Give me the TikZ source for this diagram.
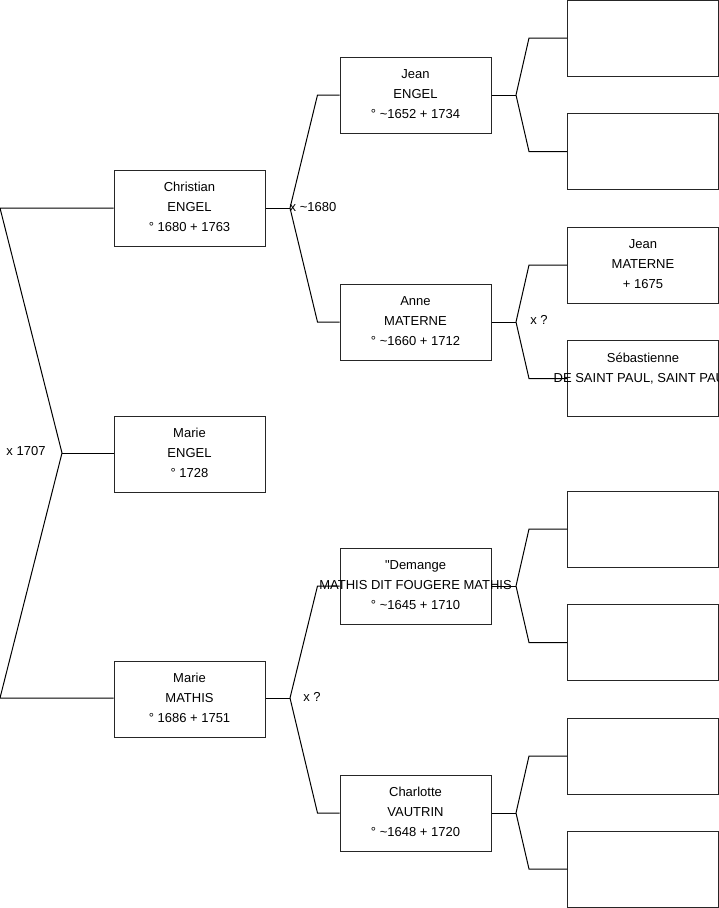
\documentclass[tikz,border=0pt]{standalone}
\usepackage{fontspec}
\setmainfont{Liberation Sans}
\newcommand{\straightquote}{\XeTeXglyph\XeTeXcharglyph"22\relax}
\begin{document}
\begin{tikzpicture}[x=1pt,y=-1pt,
  box/.style={draw=black!85,line width=1pt,minimum width=151pt,minimum height=76pt,inner sep=0pt},
  txt/.style={align=center,inner sep=0pt,font=\fontsize{13}{20}\selectfont,yshift=1pt},
  lbl/.style={inner sep=0pt,font=\fontsize{13}{16}\selectfont},
  conn/.style={draw=black,line width=1pt}]
\useasboundingbox (0,0) rectangle (719,908);
% left column
\node[box] (chr) at (189.5,208) {};
\node[box] (mae) at (189.5,454) {};
\node[box] (mam) at (189.5,699) {};
% middle column
\node[box] (jean) at (415.5,95) {};
\node[box] (anne) at (415.5,322) {};
\node[box] (dem) at (415.5,586) {};
\node[box] (cha) at (415.5,813) {};
% right column
\node[box] (r1) at (643,38) {};
\node[box] (r2) at (643,151.5) {};
\node[box] (jm) at (643,265) {};
\node[box] (seb) at (643,378.5) {};
\node[box] (r5) at (643,529) {};
\node[box] (r6) at (643,642.5) {};
\node[box] (r7) at (643,756) {};
\node[box] (r8) at (643,869) {};
% texts
\node[txt] at (chr) {Christian\\ENGEL\\° 1680 + 1763};
\node[txt] at (mae) {Marie\\ENGEL\\° 1728};
\node[txt] at (mam) {Marie\\MATHIS\\° 1686 + 1751};
\node[txt] at (jean) {Jean\\ENGEL\\° \textasciitilde 1652 + 1734};
\node[txt] at (anne) {Anne\\MATERNE\\° \textasciitilde 1660 + 1712};
\node[txt] at (cha) {Charlotte\\VAUTRIN\\° \textasciitilde 1648 + 1720};
\node[txt] at (jm) {Jean\\MATERNE\\+ 1675};
% connectors
\coordinate (a0) at (0,208);
\coordinate (b0) at (0,698);
\coordinate (j0) at (62,453);
\draw[conn] (chr.west) -- (a0) -- (j0) -- (b0) -- (mam.west |- b0);
\draw[conn] (j0) -- (mae.west |- j0);
\coordinate (j1) at (290,208);
\draw[conn] (chr.east) -- (j1);
\draw[conn] (j1) -- ([xshift=-22pt]jean.west) -- (jean.west);
\draw[conn] (j1) -- ([xshift=-22pt]anne.west) -- (anne.west);
\coordinate (j2) at (290,698);
\draw[conn] (mam.east |- j2) -- (j2);
\draw[conn] (j2) -- ([xshift=-22pt]dem.west) -- (dem.west);
\draw[conn] (j2) -- ([xshift=-22pt]cha.west) -- (cha.west);
\coordinate (j3) at (516,95);
\draw[conn] (jean.east) -- (j3);
\draw[conn] (j3) -- ([xshift=-38pt]r1.west) -- (r1.west);
\draw[conn] (j3) -- ([xshift=-38pt]r2.west) -- (r2.west);
\coordinate (j4) at (516,322);
\draw[conn] (anne.east) -- (j4);
\draw[conn] (j4) -- ([xshift=-38pt]jm.west) -- (jm.west);
\draw[conn] (j4) -- ([xshift=-38pt]seb.west) -- (seb.west);
\coordinate (j5) at (516,586);
\draw[conn] (dem.east) -- (j5);
\draw[conn] (j5) -- ([xshift=-38pt]r5.west) -- (r5.west);
\draw[conn] (j5) -- ([xshift=-38pt]r6.west) -- (r6.west);
\coordinate (j6) at (516,813);
\draw[conn] (cha.east) -- (j6);
\draw[conn] (j6) -- ([xshift=-38pt]r7.west) -- (r7.west);
\draw[conn] (j6) -- ([xshift=-38pt]r8.west) -- (r8.west);
% overflowing texts (drawn over lines)
\node[txt] at (dem) {\straightquote Demange\\MATHIS DIT FOUGERE MATHIS\\° \textasciitilde 1645 + 1710};
\node[txt] at (seb) {Sébastienne\\DE SAINT PAUL, SAINT PAUL\\\mbox{}};
% marriage labels
\node[lbl] (m0) at (26,451) {x 1707};
\node[lbl] (m1) at (313,207) {x \textasciitilde 1680};
\node[lbl] (m4) at (539,320) {x ?};
\node[lbl] (m2) at (312,697) {x ?};
\end{tikzpicture}
\end{document}
